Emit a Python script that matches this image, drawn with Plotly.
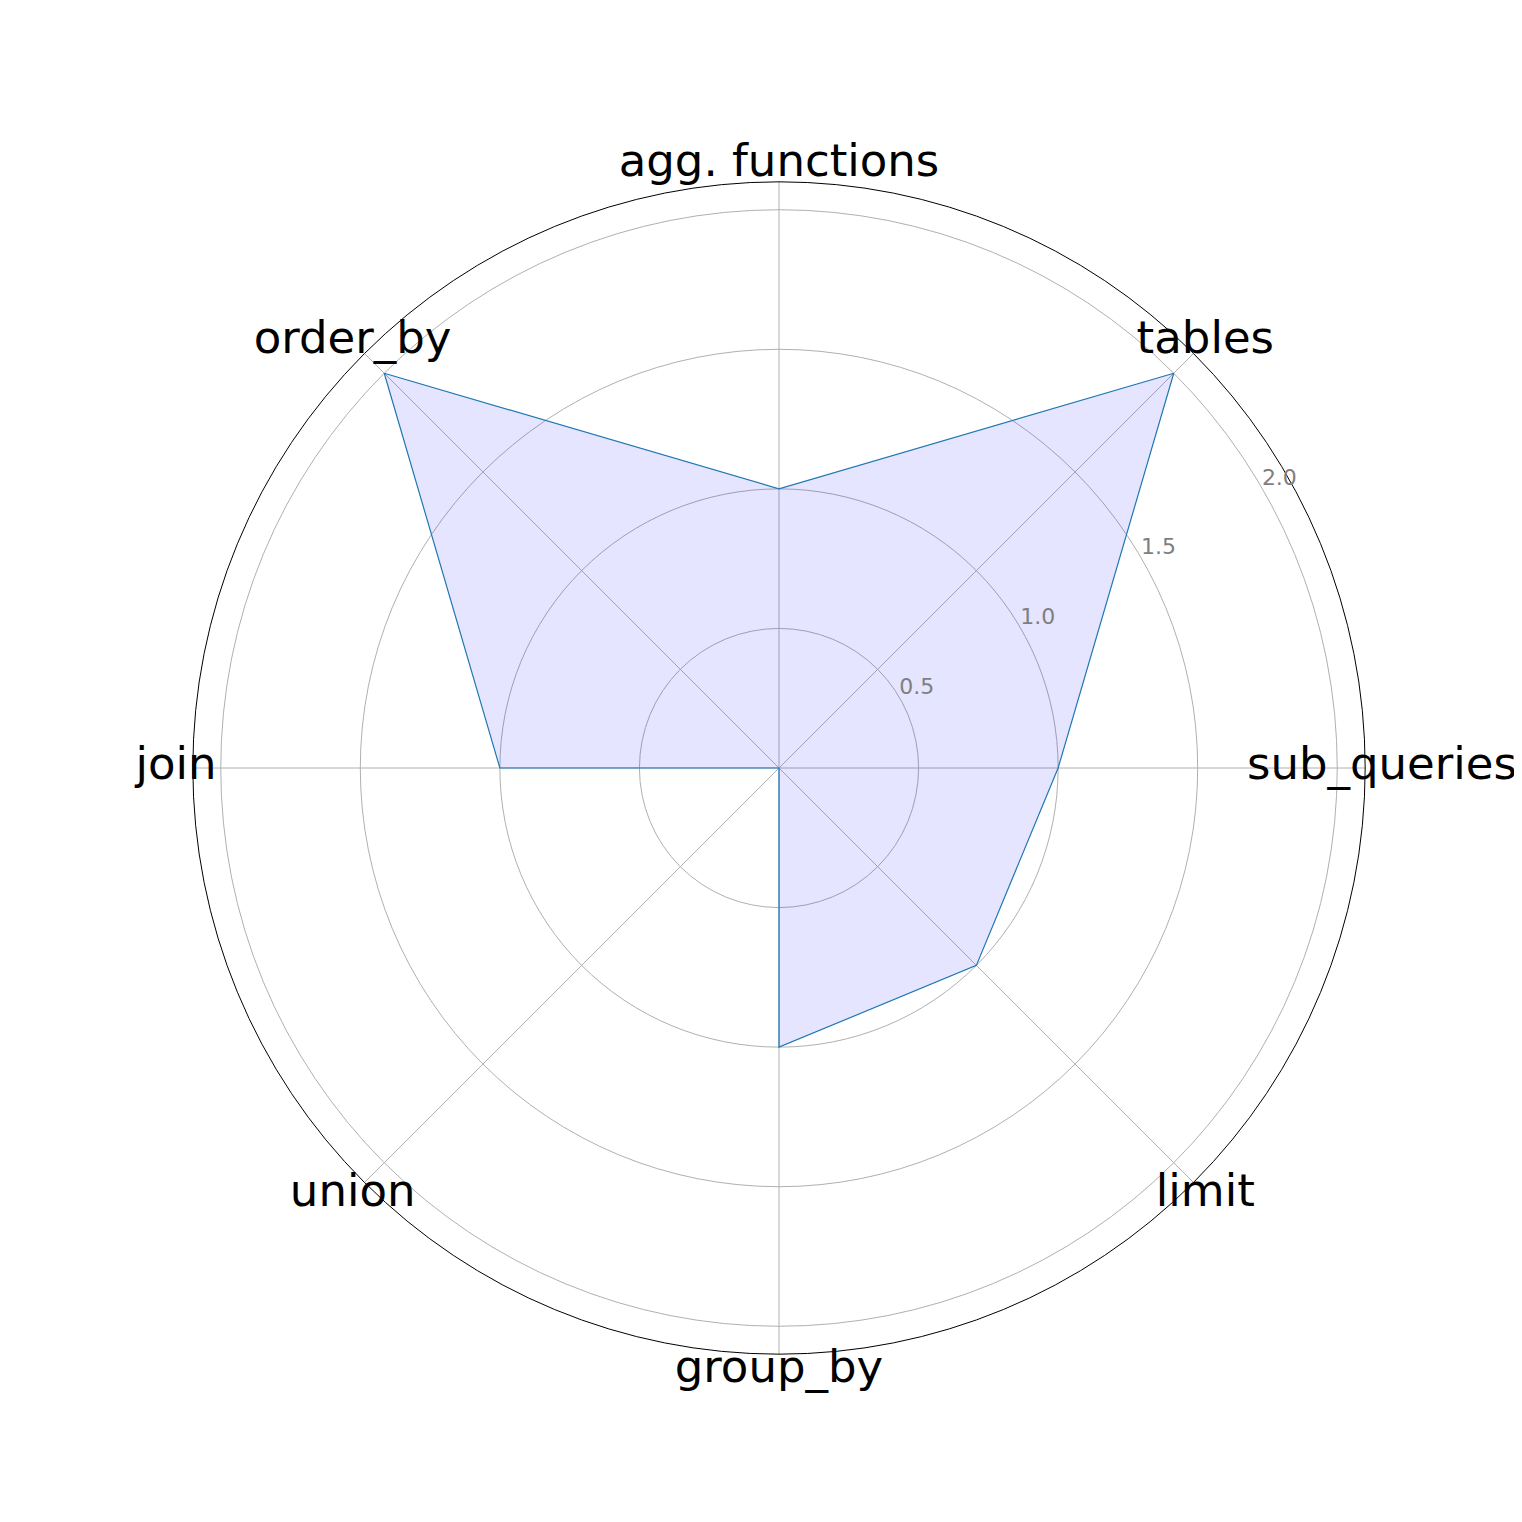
import plotly.graph_objects as go

categories = ["sub_queries", "tables", "agg. functions", "order_by", "join", "union", "group_by", "limit"]
values = [1, 2, 1, 2, 1, 0, 1, 1]
radial_ticks = [0.5, 1.0, 1.5, 2.0]
radial_ticktext = ["0.5", "1.0", "1.5", "2.0"]

R_MAX = 2.1       # outer ring of the chart
R_TEXT = 2.3      # range of the overlay polar used for labels

# close the loop
theta = categories + categories[:1]
r = values + values[:1]

fig = go.Figure()
fig.add_trace(go.Scatterpolar(
    r=r, theta=theta, mode="lines", fill="toself",
    fillcolor="rgba(0,0,255,0.1)",
    line=dict(color="#1f77b4", width=1.2),
    showlegend=False, hoverinfo="skip", subplot="polar",
))

# labels go on a larger, invisible polar with the same scale so they can sit on the rim
label_theta = [360 * i / len(categories) for i in range(len(categories))]
fig.add_trace(go.Scatterpolar(
    r=[2.16] * len(categories), theta=label_theta, mode="text",
    text=categories, textposition="middle center",
    textfont=dict(size=45, color="black", family="DejaVu Sans"),
    showlegend=False, hoverinfo="skip", subplot="polar2",
))
fig.add_trace(go.Scatterpolar(
    r=[t + 0.07 for t in radial_ticks], theta=[30] * len(radial_ticks), mode="text",
    text=radial_ticktext, textposition="middle center",
    textfont=dict(size=22, color="#7f7f7f", family="DejaVu Sans"),
    showlegend=False, hoverinfo="skip", subplot="polar2",
))

inner = R_MAX / R_TEXT
pad = (1 - inner) / 2
half = 586 / inner  # pixel radius of the overlay polar

fig.update_layout(
    width=1522, height=1522,
    margin=dict(l=round(771 - half), r=round(1522 - 771 - half),
                t=round(760 - half), b=round(1522 - 760 - half)),
    paper_bgcolor="white",
    font=dict(family="DejaVu Sans"),
    polar=dict(
        bgcolor="white",
        domain=dict(x=[pad, 1 - pad], y=[pad, 1 - pad]),
        angularaxis=dict(
            direction="counterclockwise", rotation=0,
            showline=True, linecolor="black", linewidth=1,
            gridcolor="#b0b0b0", gridwidth=1,
            ticks="", showticklabels=False,
        ),
        radialaxis=dict(
            range=[0, R_MAX], angle=22.5,
            tickvals=radial_ticks, showticklabels=False,
            showline=False, ticks="",
            gridcolor="#b0b0b0", gridwidth=1,
        ),
    ),
    polar2=dict(
        bgcolor="rgba(0,0,0,0)",
        domain=dict(x=[0, 1], y=[0, 1]),
        angularaxis=dict(
            direction="counterclockwise", rotation=0,
            showline=False, showgrid=False, ticks="", showticklabels=False,
        ),
        radialaxis=dict(
            range=[0, R_TEXT], visible=False,
            showline=False, showgrid=False, ticks="", showticklabels=False,
        ),
    ),
)

fig.write_html("out.html")
